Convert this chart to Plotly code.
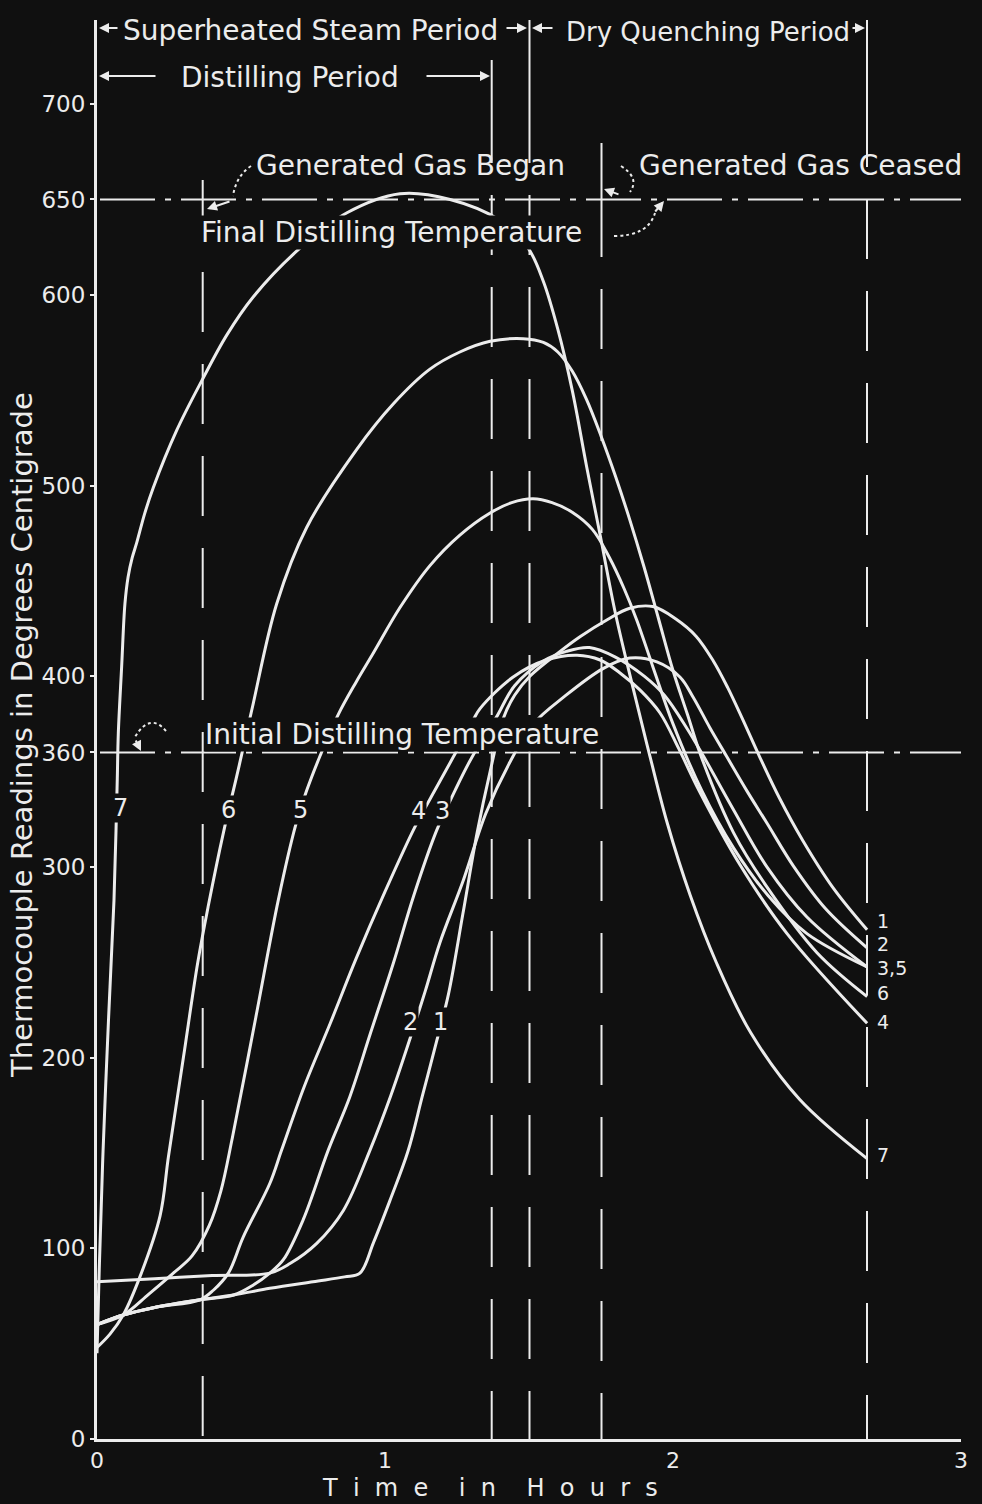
import plotly.graph_objects as go

# ---------------- data (time in hours, temperature in deg C) ----------------
t1 = [0.0, 0.091, 0.2, 0.358, 0.474, 0.6, 0.75, 0.86, 0.913, 0.96, 1.017, 1.08, 1.13, 1.18, 1.22, 1.27,
      1.32, 1.365, 1.411, 1.45, 1.503, 1.608, 1.677, 1.77, 1.85, 1.93, 2.01, 2.08, 2.14, 2.19, 2.24,
      2.30, 2.37, 2.45, 2.556, 2.674]
T1 = [60, 65, 69, 73, 75.5, 79, 82.5, 85, 87, 103, 125, 151, 180, 209, 233, 275,
      318, 350, 378, 390, 400, 413, 420.7, 429.5, 435.6, 436.5, 430, 421, 408, 394, 378,
      358, 336, 314, 289, 267]

t2 = [0.0, 0.2, 0.4, 0.6, 0.67, 0.763, 0.856, 0.948, 1.02, 1.087, 1.14, 1.19, 1.272, 1.35, 1.434,
      1.515, 1.62, 1.757, 1.85, 1.944, 2.024, 2.07, 2.128, 2.186, 2.256, 2.326, 2.42, 2.53, 2.674]
T2 = [82.5, 84, 85.7, 87, 92, 102.6, 120, 151.5, 180, 210, 235, 260, 293, 328, 355,
      375, 389, 404, 409.5, 407.5, 399.6, 389, 373, 358, 340, 323, 300, 278, 257.5]

t3 = [0.0, 0.091, 0.2, 0.358, 0.474, 0.543, 0.6, 0.647, 0.716, 0.803, 0.878, 0.95, 1.03, 1.10, 1.179,
      1.243, 1.30, 1.388, 1.45, 1.55, 1.63, 1.71, 1.80, 1.90, 1.97, 2.047, 2.106, 2.21, 2.326, 2.465, 2.674]
T3 = [60, 65, 69, 73, 75.5, 80.8, 87, 94, 115, 151.5, 179.5, 213, 250, 285, 319,
      340, 357, 378.8, 395, 408, 413, 415, 410, 400, 390, 373, 358, 330, 300, 273.7, 247.5]

t4 = [0.0, 0.091, 0.2, 0.358, 0.404, 0.456, 0.508, 0.60, 0.641, 0.72, 0.81, 0.90, 1.0, 1.104, 1.18,
      1.237, 1.306, 1.33, 1.445, 1.56, 1.667, 1.747, 1.816, 1.885, 1.955, 2.02, 2.094, 2.233, 2.396, 2.674]
T4 = [60, 65, 69, 73, 78, 87, 106, 134, 151.5, 185, 218, 252, 287, 321, 342,
      357.6, 377, 383, 399.6, 408.5, 411, 408.5, 401.7, 392.8, 380.7, 362, 339, 301, 265, 218]

t5 = [0.0, 0.091, 0.18, 0.265, 0.33, 0.39, 0.43, 0.47, 0.55, 0.63, 0.69, 0.728, 0.774, 0.838, 0.90,
      0.959, 1.052, 1.156, 1.26, 1.365, 1.44, 1.514, 1.58, 1.65, 1.72, 1.78, 1.83, 1.874, 1.93, 2.0,
      2.1, 2.21, 2.33, 2.465, 2.674]
T5 = [60, 65, 76, 87, 96, 112, 130, 158, 220, 283, 322, 340, 358, 380, 397,
      412, 436, 458, 474, 485.6, 491, 493, 491, 486, 477, 462, 446, 429.5, 405, 375,
      340, 310, 285, 265, 247.5]

t6 = [0.0, 0.045, 0.091, 0.149, 0.219, 0.248, 0.30, 0.35, 0.387, 0.439, 0.485, 0.537, 0.624, 0.728,
      0.902, 1.03, 1.156, 1.26, 1.365, 1.48, 1.55, 1.60, 1.65, 1.70, 1.75, 1.80, 1.85, 1.90, 1.95,
      2.0, 2.05, 2.1, 2.21, 2.326, 2.5, 2.674]
T6 = [48, 55, 65, 85, 117, 148, 200, 250, 280, 318, 347.5, 382, 438, 478,
      519, 543, 561, 570, 575.6, 577, 575, 570, 560, 545, 526, 505, 482, 457, 430,
      403, 380, 357, 318, 289.5, 255, 232]

t7 = [0.0, 0.008, 0.021, 0.04, 0.059, 0.066, 0.0705, 0.074, 0.0856, 0.097, 0.108, 0.122, 0.138, 0.165,
      0.195, 0.277, 0.364, 0.451, 0.543, 0.698, 0.868, 1.052, 1.226, 1.40, 1.497, 1.55, 1.60, 1.65, 1.70,
      1.747, 1.80, 1.861, 1.92, 1.98, 2.06, 2.15, 2.27, 2.44, 2.674]
T7 = [45, 90, 151, 220, 282.6, 319, 346.5, 370, 405, 438, 452, 462, 470, 485,
      498.7, 529, 555, 579, 599, 623.5, 643, 653, 650, 639, 624.5, 607, 582, 550, 510,
      474, 433, 394, 358, 323, 285, 250, 213, 178, 147]

series = [("1", t1, T1), ("2", t2, T2), ("3", t3, T3), ("4", t4, T4),
          ("5", t5, T5), ("6", t6, T6), ("7", t7, T7)]

x_ticks = [0, 1, 2, 3]
y_ticks = [0, 100, 200, 300, 360, 400, 500, 600, 650, 700]

# ---------------- styling / layout helpers ----------------
BG = "#101010"
FG = "#ececec"
FONT = "DejaVu Sans"
L, T_, W, H = 97, 20, 982, 1504
PLOT_W, PLOT_H = 864, 1419
Y_TOP = 744.1


def X(px):
    return (px - L) / 288.0


def Y(py):
    return (1439 - py) / 1.907


fig = go.Figure()
for name, tx, ty in series:
    fig.add_trace(go.Scatter(x=tx, y=ty, mode="lines", name=name,
                             line=dict(color=FG, width=3, shape="spline", smoothing=1.0),
                             hoverinfo="skip"))

shapes = []
# horizontal reference lines (650 final distilling, 360 initial distilling)
for val in (650, 360):
    shapes.append(dict(type="line", xref="x", yref="y", x0=X(100), x1=X(964), y0=val, y1=val,
                       line=dict(color=FG, width=2, dash="55px,10px,6px,10px"), layer="below"))

# vertical period lines: (x px, solid top, solid bottom, dashed start)
vlines = [(202.7, None, None, 180), (491.7, 60, 103, 103), (529.5, 12, 103, 103),
          (601.5, 143, 197, 197), (867.0, 15, 107, 107)]
for px, s0, s1, d0 in vlines:
    if s0 is not None:
        shapes.append(dict(type="line", xref="x", yref="y", x0=X(px), x1=X(px), y0=Y(s0), y1=Y(s1),
                           line=dict(color=FG, width=2)))
    shapes.append(dict(type="line", xref="x", yref="y", x0=X(px), x1=X(px), y0=Y(d0), y1=0,
                       line=dict(color=FG, width=2, dash="60px,32px"), layer="below"))


# dotted pointer curves
def qpath(p0, c, p1):
    return "M %f,%f Q %f,%f %f,%f" % (X(p0[0]), Y(p0[1]), X(c[0]), Y(c[1]), X(p1[0]), Y(p1[1]))


for p0, c, p1 in [((251, 166), (236, 176), (233, 196)),
                  ((621, 166), (640, 178), (630, 192)),
                  ((614, 236), (648, 236), (655, 213)),
                  ((166, 731), (150, 712), (135, 737))]:
    shapes.append(dict(type="path", xref="x", yref="y", path=qpath(p0, c, p1),
                       line=dict(color=FG, width=2, dash="dot")))

ann = []


def text(s, px, py, size=28, bg=None, xanchor="center", angle=0, paper=False):
    if paper:
        d = dict(x=(px - L) / PLOT_W, y=(1439 - py) / PLOT_H, xref="paper", yref="paper")
    else:
        d = dict(x=X(px), y=Y(py), xref="x", yref="y")
    d.update(text=s, showarrow=False, font=dict(family=FONT, size=size, color=FG),
             xanchor=xanchor, yanchor="middle", textangle=angle, borderpad=0)
    if bg:
        d["bgcolor"] = bg
    ann.append(d)


def arrow(tipx, tipy, ax, ay, head=2, width=2, size=1.0):
    ann.append(dict(text="", x=X(tipx), y=Y(tipy), xref="x", yref="y", showarrow=True,
                    ax=ax, ay=ay, arrowhead=head, arrowsize=size, arrowwidth=width,
                    arrowcolor=FG, standoff=0, startstandoff=0))


# period captions
text("Superheated Steam Period", 310, 30)
text("Dry Quenching Period", 708, 32, size=26)
text("Distilling Period", 290, 77)
arrow(99, 28, 20, 0)
arrow(527, 28, -22, 0)
arrow(532, 28, 22, 0)
arrow(865, 28, -14, 0)
arrow(99, 76, 58, 0)
arrow(490, 76, -65, 0)

# other captions
text("Generated Gas Began", 410, 165)
text("Generated Gas Ceased", 800, 165)
text("Final Distilling Temperature", 391, 232, bg=BG)
text("Initial Distilling Temperature", 402, 734, bg=BG)
arrow(207, 209, 24, -8)
arrow(604, 189, 16, 6)
arrow(664, 201, -10, 12)
arrow(141, 751, -6, -12)

# curve labels (mask the curves like the original gaps)
for s, px, py in [("7", 120, 808), ("6", 228, 810), ("5", 300, 810), ("4", 418, 811),
                  ("3", 442, 811), ("2", 410, 1022), ("1", 440, 1022)]:
    text(s, px, py, size=24, bg=BG)
for s, px, py in [("1", 876, 921), ("2", 876, 944), ("3,5", 876, 968), ("6", 876, 993),
                  ("4", 876, 1022), ("7", 876, 1155)]:
    text(s, px, py, size=19, xanchor="left")

# axis titles
text("T  i  m  e    i  n    H  o  u  r  s", 490, 1488, size=24, paper=True)
text("Thermocouple Readings in Degrees Centigrade", 22, 735, size=29, angle=-90, paper=True)

fig.update_layout(
    width=W, height=H, autosize=False,
    margin=dict(l=L, r=21, t=T_, b=65, pad=0),
    paper_bgcolor=BG, plot_bgcolor=BG, showlegend=False,
    shapes=shapes, annotations=ann,
    xaxis=dict(range=[0, 3], tickvals=x_ticks, ticktext=[str(v) for v in x_ticks],
               showgrid=False, zeroline=False, showline=True, linecolor=FG, linewidth=3,
               ticks="", tickfont=dict(family=FONT, size=22, color=FG)),
    yaxis=dict(range=[0, Y_TOP], tickvals=y_ticks, ticktext=[str(v) for v in y_ticks],
               showgrid=False, zeroline=False, showline=True, linecolor=FG, linewidth=3,
               ticks="outside", ticklen=4, tickwidth=2, tickcolor=FG,
               tickfont=dict(family=FONT, size=23, color=FG)),
)

fig.write_html("out.html")
